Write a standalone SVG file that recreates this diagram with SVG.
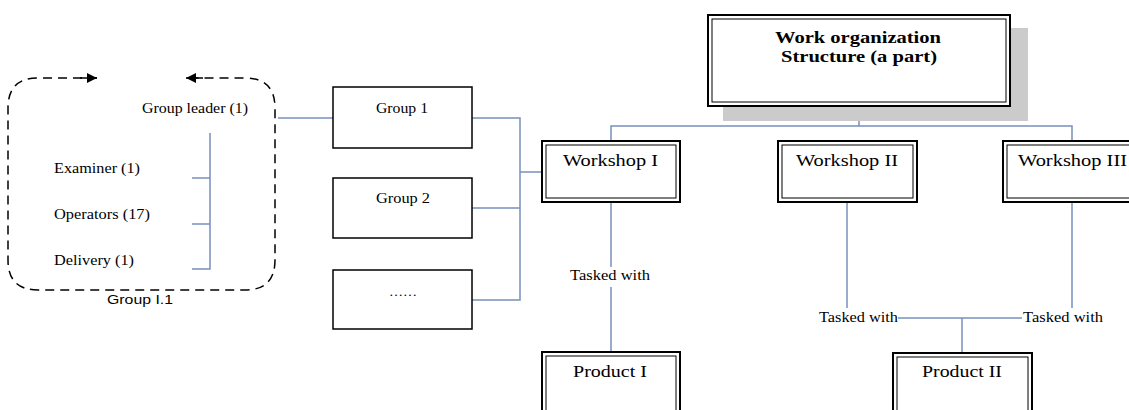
<svg xmlns="http://www.w3.org/2000/svg" width="1129" height="410" viewBox="0 0 1129 410">
<defs>
<style>
.t{font-family:"Liberation Serif","Times New Roman",serif;fill:#000}
.s{font-family:"Liberation Sans",Arial,sans-serif;fill:#000}
.b{fill:#fff;stroke:#000;stroke-width:1.5}
.o{fill:#fff;stroke:#000;stroke-width:2}
.i{fill:none;stroke:#000;stroke-width:1}
.c{fill:none;stroke:#7790bc;stroke-width:1.5}
.d{fill:none;stroke:#000;stroke-width:1.5;stroke-dasharray:9,6}
</style>
<marker id="ah" viewBox="0 0 10 10" refX="10" refY="5" markerWidth="11" markerHeight="10" markerUnits="userSpaceOnUse" orient="auto"><path d="M0,0 L10,5 L0,10 Z" fill="#000"/></marker>
</defs>
<rect width="1129" height="410" fill="#fff"/>

<g id="connectors">
<line class="c" x1="278" y1="118" x2="333" y2="118"/>
<polyline class="c" points="192,178 210,178"/>
<polyline class="c" points="192,224 210,224"/>
<polyline class="c" points="210,133 210,269 192,269"/>
<polyline class="c" points="472,118 520,118 520,300 472,300"/>
<line class="c" x1="472" y1="208" x2="520" y2="208"/>
<line class="c" x1="520" y1="172" x2="542" y2="172"/>
<line class="c" x1="859" y1="106" x2="859" y2="126"/>
<polyline class="c" points="611,140 611,126 1072,126 1072,141"/>
<line class="c" x1="611" y1="202" x2="611" y2="267"/>
<line class="c" x1="611" y1="287" x2="611" y2="352"/>
<line class="c" x1="847" y1="202" x2="847" y2="308"/>
<line class="c" x1="1072" y1="202" x2="1072" y2="308"/>
<line class="c" x1="898" y1="318" x2="1022" y2="318"/>
<line class="c" x1="962" y1="318" x2="962" y2="353"/>
</g>

<g id="group-i1">
<path class="d" d="M97,78 L38,78 Q8,78 8,108 L8,260 Q8,290 38,290 L245,290 Q275,290 275,260 L275,108 Q275,78 245,78 L186,78"/>
<line x1="80" y1="78" x2="97" y2="78" stroke="#000" stroke-width="1.5" marker-end="url(#ah)"/>
<line x1="203" y1="78" x2="186" y2="78" stroke="#000" stroke-width="1.5" marker-end="url(#ah)"/>
<text class="t" x="142" y="113" font-size="14" textLength="106" lengthAdjust="spacingAndGlyphs">Group leader (1)</text>
<text class="t" x="54" y="173" font-size="14" textLength="86" lengthAdjust="spacingAndGlyphs">Examiner (1)</text>
<text class="t" x="54" y="219" font-size="14" textLength="96" lengthAdjust="spacingAndGlyphs">Operators (17)</text>
<text class="t" x="54" y="265" font-size="14" textLength="80" lengthAdjust="spacingAndGlyphs">Delivery (1)</text>
<text class="s" x="107" y="304" font-size="13" textLength="66" lengthAdjust="spacingAndGlyphs">Group I.1</text>
</g>

<g id="group1">
<rect class="b" x="333" y="87" width="139" height="61"/>
<text class="t" x="376" y="113" font-size="14" textLength="52" lengthAdjust="spacingAndGlyphs">Group 1</text>
</g>
<g id="group2">
<rect class="b" x="333" y="178" width="139" height="60"/>
<text class="t" x="376" y="203" font-size="14" textLength="54" lengthAdjust="spacingAndGlyphs">Group 2</text>
</g>
<g id="group3">
<rect class="b" x="333" y="270" width="139" height="59"/>
<text class="t" x="389" y="296" font-size="13" textLength="28" lengthAdjust="spacingAndGlyphs">……</text>
</g>

<g id="title">
<rect x="723" y="28" width="305" height="93" fill="#cbcbcb"/>
<rect class="o" x="708" y="15" width="302" height="91"/>
<rect class="i" x="712" y="19" width="294" height="83"/>
<text class="t" x="775" y="43" font-size="16" font-weight="bold" textLength="166" lengthAdjust="spacingAndGlyphs">Work organization</text>
<text class="t" x="781" y="62" font-size="16" font-weight="bold" textLength="156" lengthAdjust="spacingAndGlyphs">Structure (a part)</text>
</g>

<g id="workshop1">
<rect class="o" x="542" y="141" width="138" height="61"/>
<rect class="i" x="546" y="145" width="130" height="53"/>
<text class="t" x="563" y="166" font-size="17" textLength="95" lengthAdjust="spacingAndGlyphs">Workshop I</text>
</g>
<g id="workshop2">
<rect class="o" x="778" y="141" width="139" height="61"/>
<rect class="i" x="782" y="145" width="131" height="53"/>
<text class="t" x="796" y="166" font-size="17" textLength="102" lengthAdjust="spacingAndGlyphs">Workshop II</text>
</g>
<g id="workshop3">
<rect class="o" x="1003" y="141" width="139" height="61"/>
<rect class="i" x="1007" y="145" width="131" height="53"/>
<text class="t" x="1018" y="166" font-size="17" textLength="109" lengthAdjust="spacingAndGlyphs">Workshop III</text>
</g>

<g id="labels">
<text class="t" x="570" y="280" font-size="14" textLength="80" lengthAdjust="spacingAndGlyphs">Tasked with</text>
<text class="t" x="819" y="322" font-size="14" textLength="79" lengthAdjust="spacingAndGlyphs">Tasked with</text>
<text class="t" x="1023" y="322" font-size="14" textLength="80" lengthAdjust="spacingAndGlyphs">Tasked with</text>
</g>

<g id="product1">
<rect class="o" x="542" y="352" width="138" height="70"/>
<rect class="i" x="546" y="356" width="130" height="62"/>
<text class="t" x="573" y="377" font-size="17" textLength="74" lengthAdjust="spacingAndGlyphs">Product I</text>
</g>
<g id="product2">
<rect class="o" x="893" y="353" width="139" height="70"/>
<rect class="i" x="897" y="357" width="131" height="62"/>
<text class="t" x="922" y="377" font-size="17" textLength="80" lengthAdjust="spacingAndGlyphs">Product II</text>
</g>
</svg>
